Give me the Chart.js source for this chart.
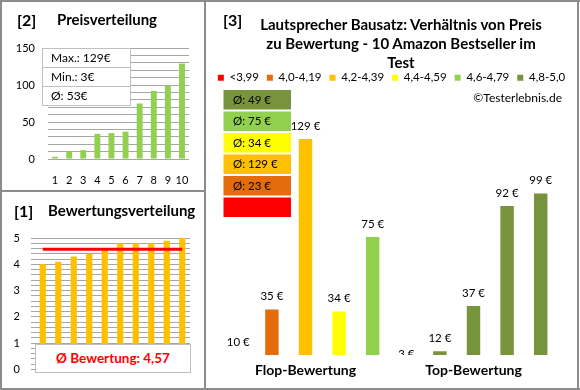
<!DOCTYPE html>
<html lang="de">
<head>
<meta charset="UTF-8">
<title>Lautsprecher Bausatz - Preis und Bewertung</title>
<script src="https://cdn.jsdelivr.net/npm/chart.js"></script>
<style>
  body { margin: 0; width: 580px; height: 390px; position: relative; overflow: hidden; background: #fff; font-family: Lato, sans-serif; color: #000; }
  canvas { position: absolute; }
  .strich { position: absolute; background: #8c8c8c; }
  .nr { position: absolute; font-weight: bold; font-size: 16px; line-height: 16px; }
  .kopf { position: absolute; font-weight: bold; font-size: 15px; line-height: 15px; }
  #infoPreis { position: absolute; left: 42px; top: 48px; width: 87px; border: 1px solid #c0c0c0; background: #fff; font-size: 12px; }
  #infoPreis div { height: 18px; line-height: 18px; padding-left: 8px; }
  #infoPreis div + div { border-top: 1px solid #c0c0c0; }
  #infoBew { position: absolute; left: 35px; top: 344px; width: 154px; height: 27px; line-height: 27px; border: 1px solid #c0c0c0; background: #fff; color: #ff0000; font-weight: bold; font-size: 13.5px; text-align: center; }
  #titel3 { position: absolute; left: 231px; top: 15px; width: 340px; text-align: center; font-weight: bold; font-size: 15px; line-height: 19px; }
  #copy { position: absolute; right: 18px; top: 91px; font-size: 12px; line-height: 14px; }
</style>
</head>
<body>

<canvas id="preisChart" width="202" height="188" style="left:2px; top:2px;"></canvas>
<canvas id="bewChart" width="202" height="195" style="left:2px; top:192px;"></canvas>
<canvas id="vergleichChart" width="371" height="385" style="left:206px; top:2px;"></canvas>

<div class="nr" style="left:17px; top:12px;">[2]</div>
<div class="kopf" style="left:57px; top:12px;">Preisverteilung</div>
<div id="infoPreis"><div id="pMax"></div><div id="pMin"></div><div id="pAvg"></div></div>

<div class="nr" style="left:14px; top:203px;">[1]</div>
<div class="kopf" style="left:48px; top:203px;">Bewertungsverteilung</div>
<div id="infoBew"></div>

<div class="nr" style="left:223px; top:12px;">[3]</div>
<div id="titel3">Lautsprecher Bausatz: Verhältnis von Preis<br>zu Bewertung - 10 Amazon Bestseller im<br>Test</div>
<div id="copy">©Testerlebnis.de</div>

<div class="strich" style="left:0; top:0; width:580px; height:2px;"></div>
<div class="strich" style="left:0; top:388px; width:580px; height:2px;"></div>
<div class="strich" style="left:0; top:0; width:2px; height:390px;"></div>
<div class="strich" style="left:577px; top:0; width:2px; height:390px;"></div>
<div class="strich" style="left:204px; top:0; width:2px; height:390px;"></div>
<div class="strich" style="left:0; top:190px; width:205px; height:2px;"></div>

<script>
    Chart.defaults.font.family = 'Lato';
    Chart.defaults.color = '#000';
    Chart.defaults.animation = false;

    // [2] Preisverteilung (aufsteigend sortiert)
    const platzLabels = ['1', '2', '3', '4', '5', '6', '7', '8', '9', '10'];
    const preise = [3, 10, 12, 34, 35, 37, 75, 92, 99, 129];

    // [1] Bewertungsverteilung (aufsteigend sortiert)
    const bewertungen = [4.0, 4.1, 4.3, 4.4, 4.6, 4.8, 4.8, 4.8, 4.9, 5.0];
    const bewertungSchnitt = [4.57, 4.57, 4.57, 4.57, 4.57, 4.57, 4.57, 4.57, 4.57, 4.57];

    // [3] Preis nach Bewertung
    const gruppen = ['Flop-Bewertung', 'Top-Bewertung'];
    const flopPreise = [10, 35, 129, 34, 75];
    const flopBewertung = [4.0, 4.1, 4.3, 4.4, 4.6];
    const topPreise = [3, 12, 37, 92, 99];
    const topBewertung = [4.8, 4.8, 4.8, 4.9, 5.0];

    const klassen = ['<3,99', '4,0-4,19', '4,2-4,39', '4,4-4,59', '4,6-4,79', '4,8-5,0'];
    const klassenGrenzen = [0, 4.0, 4.2, 4.4, 4.6, 4.8];
    const klassenFarben = ['#ff0000', '#e46c0a', '#ffc000', '#ffff00', '#92d050', '#77933c'];
    const klassenSchnitt = [null, 23, 129, 34, 75, 49];

    function klasse(b) {
        let k = 0;
        klassenGrenzen.forEach((g, i) => { if (b >= g - 1e-9) k = i; });
        return k;
    }

    // Infoboxen
    const summe = preise.reduce((a, b) => a + b, 0);
    document.getElementById('pMax').textContent = 'Max.: ' + Math.max(...preise) + '€';
    document.getElementById('pMin').textContent = 'Min.: ' + Math.min(...preise) + '€';
    document.getElementById('pAvg').textContent = 'Ø: ' + Math.round(summe / preise.length) + '€';
    document.getElementById('infoBew').textContent = 'Ø Bewertung: ' + bewertungSchnitt[0].toFixed(2).replace('.', ',');

    const gitter = '#a6a6a6';

    new Chart(document.getElementById('preisChart'), {
        type: 'bar',
        data: {
            labels: platzLabels,
            datasets: [{ data: preise, backgroundColor: '#92d050', barPercentage: 0.42, categoryPercentage: 1.0 }]
        },
        options: {
            responsive: false,
            layout: { padding: { left: 0, right: 13, top: 46, bottom: 0 } },
            plugins: { legend: { display: false }, tooltip: { enabled: false } },
            scales: {
                x: {
                    grid: { display: false, drawTicks: false },
                    border: { display: false },
                    ticks: { padding: 15, font: { size: 11 }, autoSkip: false, maxRotation: 0, minRotation: 0 },
                    afterFit: s => { s.height = 31; }
                },
                y: {
                    min: 0, max: 150,
                    grid: { color: gitter, drawTicks: false },
                    border: { display: false },
                    ticks: { stepSize: 10, autoSkip: false, padding: 13, font: { size: 11 },
                             callback: v => (v % 50 === 0 ? v : '') },
                    afterFit: s => { s.width = 46; }
                }
            }
        }
    });

    new Chart(document.getElementById('bewChart'), {
        type: 'bar',
        data: {
            labels: platzLabels,
            datasets: [
                { type: 'line', data: bewertungSchnitt, borderColor: '#ff0000', borderWidth: 3, pointRadius: 0, order: 0 },
                { data: bewertungen, backgroundColor: '#ffc000', barPercentage: 0.4, categoryPercentage: 1.0, order: 1 }
            ]
        },
        options: {
            responsive: false,
            layout: { padding: { left: 0, right: 14, top: 46, bottom: 14 } },
            plugins: { legend: { display: false }, tooltip: { enabled: false } },
            scales: {
                x: { display: false },
                y: {
                    min: 0, max: 5,
                    grid: { color: gitter, tickLength: 4, tickColor: gitter },
                    border: { display: false },
                    ticks: { stepSize: 0.2, autoSkip: false, padding: 11, font: { size: 11 },
                             callback: v => (Math.abs(v - Math.round(v)) < 1e-6 ? Math.round(v) : '') },
                    afterFit: s => { s.width = 33; }
                }
            }
        }
    });

    const preisBeschriftung = {
        id: 'preisBeschriftung',
        afterDatasetsDraw(chart) {
            const ctx = chart.ctx, ca = chart.chartArea;
            ctx.save();
            ctx.beginPath();
            ctx.rect(0, 0, chart.width, ca.bottom);
            ctx.clip();
            ctx.font = '11.5px Lato';
            ctx.fillStyle = '#000';
            ctx.textAlign = 'center';
            ctx.textBaseline = 'middle';
            chart.data.datasets.forEach((ds, di) => {
                chart.getDatasetMeta(di).data.forEach((bar, i) => {
                    ctx.fillText(ds.data[i] + ' €', bar.x, bar.y - 13);
                });
            });
            ctx.restore();
        }
    };

    const schnittBoxen = {
        id: 'schnittBoxen',
        afterDraw(chart) {
            const ctx = chart.ctx;
            ctx.save();
            ctx.font = '11.5px Lato';
            ctx.textBaseline = 'middle';
            const n = klassen.length;
            for (let k = 0; k < n; k++) {
                const i = n - 1 - k;
                const y = 88 + k * 21.5;
                ctx.fillStyle = klassenFarben[i];
                ctx.fillRect(17.5, y, 67.5, 19.5);
                if (klassenSchnitt[i] !== null) {
                    ctx.fillStyle = '#000';
                    ctx.fillText('Ø: ' + klassenSchnitt[i] + ' €', 27, y + 10);
                }
            }
            ctx.restore();
        }
    };

    const rang = [0, 1, 2, 3, 4];
    const vergleich = new Chart(document.getElementById('vergleichChart'), {
        type: 'bar',
        data: {
            labels: gruppen,
            datasets: rang.map(i => ({
                label: 'Platz ' + (i + 1),
                data: [flopPreise[i], topPreise[i]],
                backgroundColor: [klassenFarben[klasse(flopBewertung[i])], klassenFarben[klasse(topBewertung[i])]],
                barPercentage: 0.4,
                categoryPercentage: 1.0
            }))
        },
        options: {
            responsive: false,
            layout: { padding: { left: 0, right: 0, top: 62, bottom: 0 } },
            plugins: {
                tooltip: { enabled: false },
                legend: {
                    position: 'top',
                    labels: {
                        boxWidth: 6, boxHeight: 6, padding: 8, font: { size: 11.5 },
                        generateLabels: () => klassen.map((t, i) => ({
                            text: t, fillStyle: klassenFarben[i], strokeStyle: klassenFarben[i],
                            lineWidth: 0, hidden: false, index: i
                        }))
                    }
                }
            },
            scales: {
                x: {
                    grid: { display: false, drawTicks: false },
                    border: { display: false },
                    ticks: { padding: 7, font: { size: 14, weight: 'bold' } },
                    afterFit: s => { s.height = 32; }
                },
                y: {
                    min: 10, max: 150,
                    grid: { display: false }, border: { display: false },
                    ticks: { display: false },
                    afterFit: s => { s.width = 15.5; }
                },
                yRechts: {
                    position: 'right', min: 0, max: 1,
                    grid: { display: false }, border: { display: false },
                    ticks: { display: false },
                    afterFit: s => { s.width = 19.5; }
                }
            }
        },
        plugins: [preisBeschriftung, schnittBoxen]
    });

    // Massstab wie im Original: ca. 1,816 px je Euro
    const ca = vergleich.chartArea;
    vergleich.options.scales.y.max = 10 + (ca.bottom - ca.top) / 1.816;
    vergleich.update();
</script>
</body>
</html>
